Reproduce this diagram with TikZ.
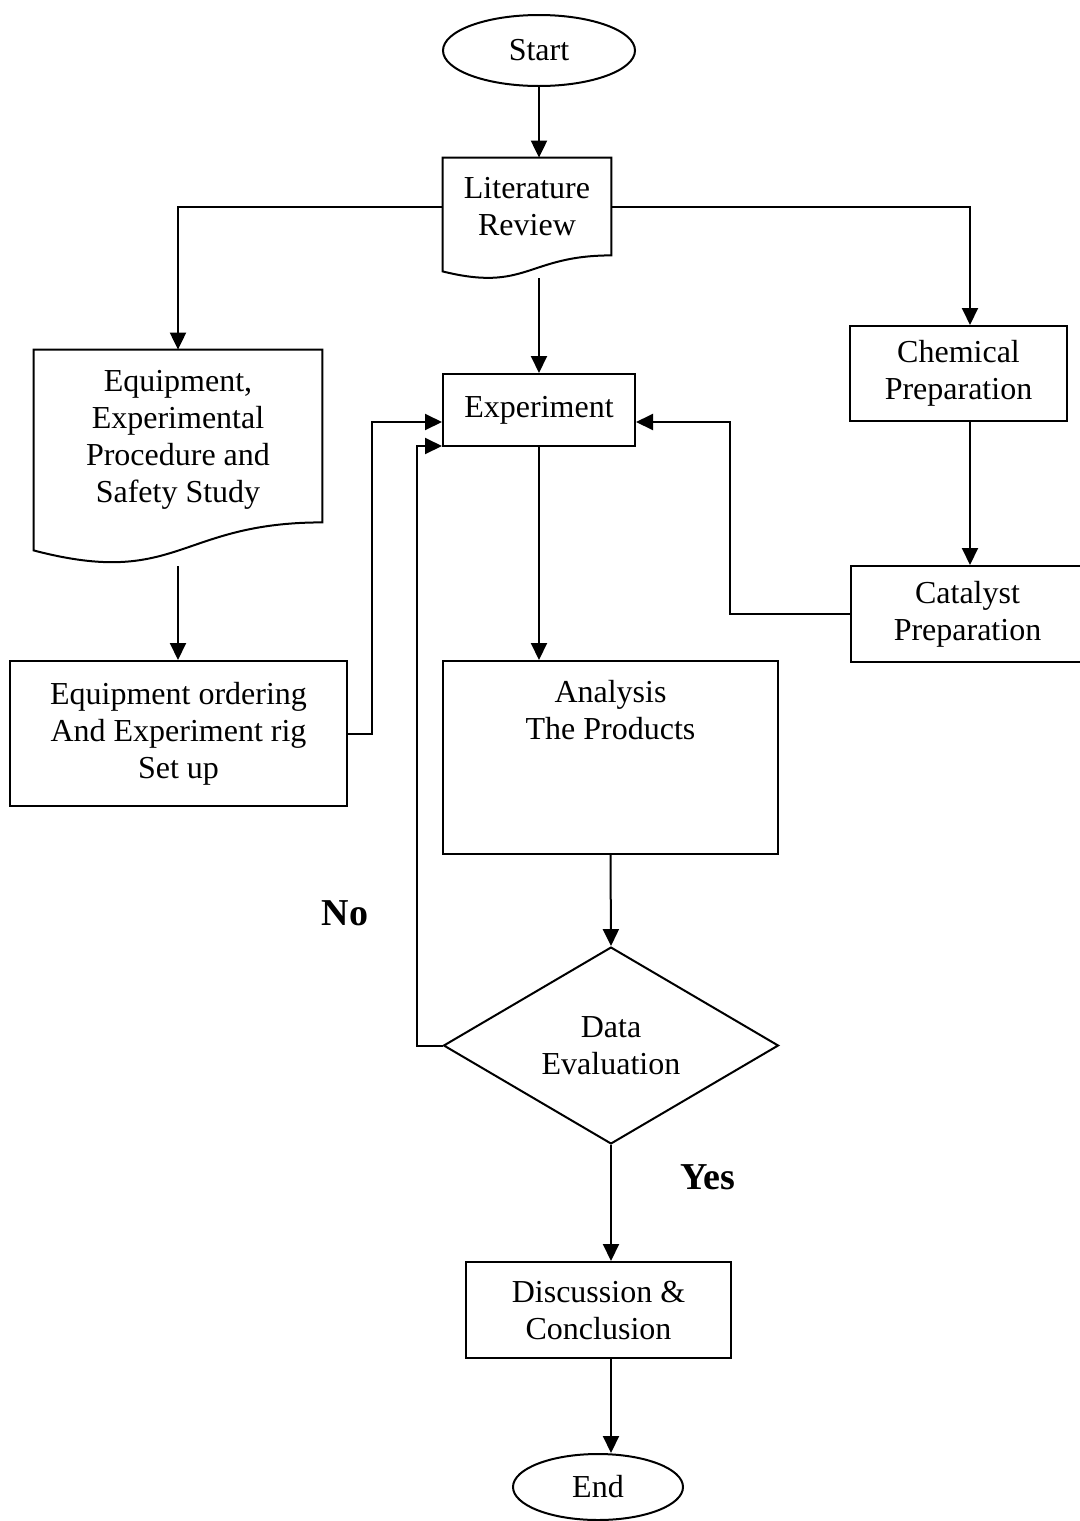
\documentclass[tikz,border=0pt]{standalone}
\usepackage{fontspec}
\setmainfont{Liberation Serif}
\usetikzlibrary{shapes.geometric,arrows.meta,calc}

\begin{document}
\begin{tikzpicture}[x=0.5pt,y=-0.5pt,
    every node/.style={font=\fontsize{16}{18.5}\selectfont, align=center},
    box/.style={draw, line width=1pt, inner sep=0pt},
    doc/.style={inner sep=0pt},
    term/.style={draw, ellipse, line width=1pt, inner sep=0pt},
    decide/.style={draw, diamond, line width=1pt, inner sep=0pt},
    flow/.style={line width=1pt, -{Triangle[length=8.5pt,width=8pt]}},
    link/.style={line width=1pt},
    answer/.style={font=\fontsize{19}{22}\selectfont\bfseries}]
\useasboundingbox (0,0) rectangle (1080,1521);

\node[term, minimum width=96pt, minimum height=35.5pt] (start) at (539,50.5) {Start};
\node[doc, minimum width=84pt, minimum height=48.5pt] (lit) at (527,206.5) {Literature\\Review};
\node[doc, minimum width=144pt, minimum height=86pt, text depth=-2pt] (equip) at (178,436) {Equipment,\\Experimental\\Procedure and\\Safety Study};
\node[box, minimum width=96pt, minimum height=36pt] (exp) at (539,410) {Experiment};
\node[box, minimum width=108.5pt, minimum height=47.5pt] (chem) at (958.5,373.5) {Chemical\\Preparation};
\node[box, minimum width=116.5pt, minimum height=48pt] (cat) at (967.5,614) {Catalyst\\Preparation};
\node[box, minimum width=168.5pt, minimum height=72.5pt] (order) at (178.5,733.5) {Equipment ordering\\And Experiment rig\\Set up};
\node[box, minimum width=167.5pt, minimum height=96.5pt,
      label={[anchor=north, yshift=-6.5pt]north:Analysis\\The Products}] (ana) at (610.5,757.5) {};
\node[decide, minimum width=167.5pt, minimum height=95.5pt] (eval) at (611,1045.5) {Data\\Evaluation};
\node[box, minimum width=132.5pt, minimum height=48pt] (disc) at (598.5,1310) {Discussion \&\\Conclusion};
\node[term, minimum width=85pt, minimum height=33pt] (end) at (598,1487) {End};
\node[answer] (no) at (345,913) {No};
\node[answer] (yes) at (708,1177) {Yes};

% document shapes
\draw[link] (lit.north west) -- (lit.north east) -- (lit.south east)
    .. controls (lit.south) and ($(lit.south)+(0,37)$) .. ($(lit.south west)+(0,16)$) -- cycle;
\draw[link] (equip.north west) -- (equip.north east) -- (equip.south east)
    .. controls (equip.south) and ($(equip.south)+(0,66)$) .. ($(equip.south west)+(0,28)$) -- cycle;

\coordinate (litout) at (539,278);
\coordinate (eqout) at (178,566);
\coordinate (rcol) at (970,421);

\draw[flow] (start.south) -- (start.south |- lit.north);
\draw[flow] (lit.west) -| (equip.north);
\draw[flow] (lit.east) -| (rcol |- chem.north);
\draw[flow] (litout) -- (exp.north);
\draw[flow] (eqout) -- (eqout |- order.north);
\draw[flow] (rcol) -- (rcol |- cat.north);
\draw[flow] (exp.south) -- (exp.south |- ana.north);
\draw[flow] (ana.south) -- (eval.north);
\draw[flow] (eval.south) -- (eval.south |- disc.north);
\draw[flow] (eval.south |- disc.south) -- (eval.south |- end.north);
\draw[flow] (order.east) -- ++(24,0) |- ($(exp.west)+(0,12)$);
\draw[flow] (cat.west) -- ++(-120,0) |- ($(exp.east)+(0,12)$);
\draw[flow] (eval.west) -- ++(-25.5,0) |- ($(exp.south west)+(0,-1)$);
\end{tikzpicture}
\end{document}
